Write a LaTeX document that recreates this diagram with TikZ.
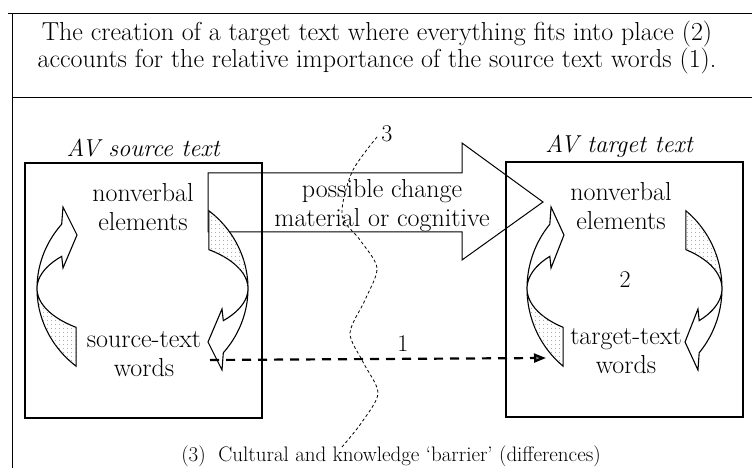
\documentclass[tikz,border=0pt]{standalone}
\usetikzlibrary{arrows.meta,patterns.meta,positioning}

% one twisted ribbon arrow, head at the top pointing right
\newcommand\ribbonarrow{%
  \filldraw[ribbon] (140:105.5 and 100) -- (-79.5,81.5) -- (-65.5,53.5) -- (-79.5,20.5) -- (140:105.5 and 50)
    arc[start angle=140, end angle=231, x radius=105.5, y radius=50] -- (231:105.5 and 100)
    arc[start angle=231, end angle=140, x radius=105.5, y radius=100] -- cycle;
  \fill[backside] (180:105.5 and 50)
    arc[start angle=180, end angle=231, x radius=105.5, y radius=50] -- (231:105.5 and 100)
    arc[start angle=231, end angle=180, x radius=105.5, y radius=100] -- cycle;
}

\begin{document}
\begin{tikzpicture}[x=1pt, y=1pt,
  every node/.style={inner sep=0pt},
  frame/.style={line width=1pt},
  box/.style={draw, line width=1.3pt, minimum width=237pt, minimum height=255pt},
  txt/.style={font=\fontsize{26}{29}\selectfont, align=center},
  avlbl/.style={font=\fontsize{24.5}{28}\selectfont\itshape},
  num/.style={font=\fontsize{24}{26}\selectfont},
  ribbon/.style={draw, fill=white, line width=1.1pt},
  backside/.style={pattern={Dots[radius=0.5pt, distance=4pt]}, pattern color=black!55},
  bigarrow/.style={draw, line width=1pt},
  link/.style={line width=2.2pt, dash pattern=on 9pt off 7pt, -{Triangle[length=12pt, width=9pt, fill=black!55]}},
  barrier/.style={line width=0.8pt, dash pattern=on 3pt off 2.5pt}]
  \useasboundingbox (0,0) rectangle (752,468);

  \draw[frame] (8,454) -- (752,454);
  \draw[frame] (12,454) -- (12,0);
  \draw[frame] (12,370) -- (752,370);
  \node[font=\fontsize{26}{24.5}\selectfont, align=center] (title) at (377,420)
    {The creation of a target text where everything fits into place (2)\\accounts for the relative importance of the source text words (1).};

  \node[box] (srcbox) at (143.5,177.5) {};
  \node[box] (tgtbox) at (624.5,178.5) {};
  \node[avlbl] (srclbl) at (143,320) {AV source text};
  \node[avlbl] (tgtlbl) at (619,322) {AV target text};

  \draw[bigarrow] (208,295) -- (462,295) -- (462,325) -- (543,266) -- (462,208) -- (462,236) -- (208,236) -- cycle;
  \node[txt] (change) at (382,262) {possible change\\material or cognitive};

  \begin{scope}[shift={(142.5,179.5)}]
    \ribbonarrow
    \begin{scope}[rotate=180]\ribbonarrow\end{scope}
  \end{scope}
  \begin{scope}[shift={(624.5,179.5)}, xscale=0.924]
    \ribbonarrow
    \begin{scope}[rotate=180]\ribbonarrow\end{scope}
  \end{scope}

  \node[txt] (srcnv) at (143,261) {nonverbal\\elements};
  \node[txt] (srcw) at (144,114) {source-text\\words};
  \node[txt] (tgtnv) at (621,262) {nonverbal\\elements};
  \node[txt] (tgtw) at (626,117) {target-text\\words};
  \node[num] (two) at (625,188) {2};

  \coordinate (d1) at (210,108);
  \coordinate (d2) at (546,110);
  \draw[link] (d1) -- (d2);
  \node[num] (one) at (403,124) {1};

  \node[num] (three) at (387,334) {3};
  \draw[barrier] plot[smooth] coordinates {(377,331) (352,296) (342,253) (360,228) (377,200) (365,168) (350,135) (363,106) (378,75) (362,46) (342,21)};
  \node[font=\fontsize{21}{24}\selectfont] (caption) at (391,12) {(3)\ \ Cultural and knowledge `barrier' (differences)};
\end{tikzpicture}
\end{document}
